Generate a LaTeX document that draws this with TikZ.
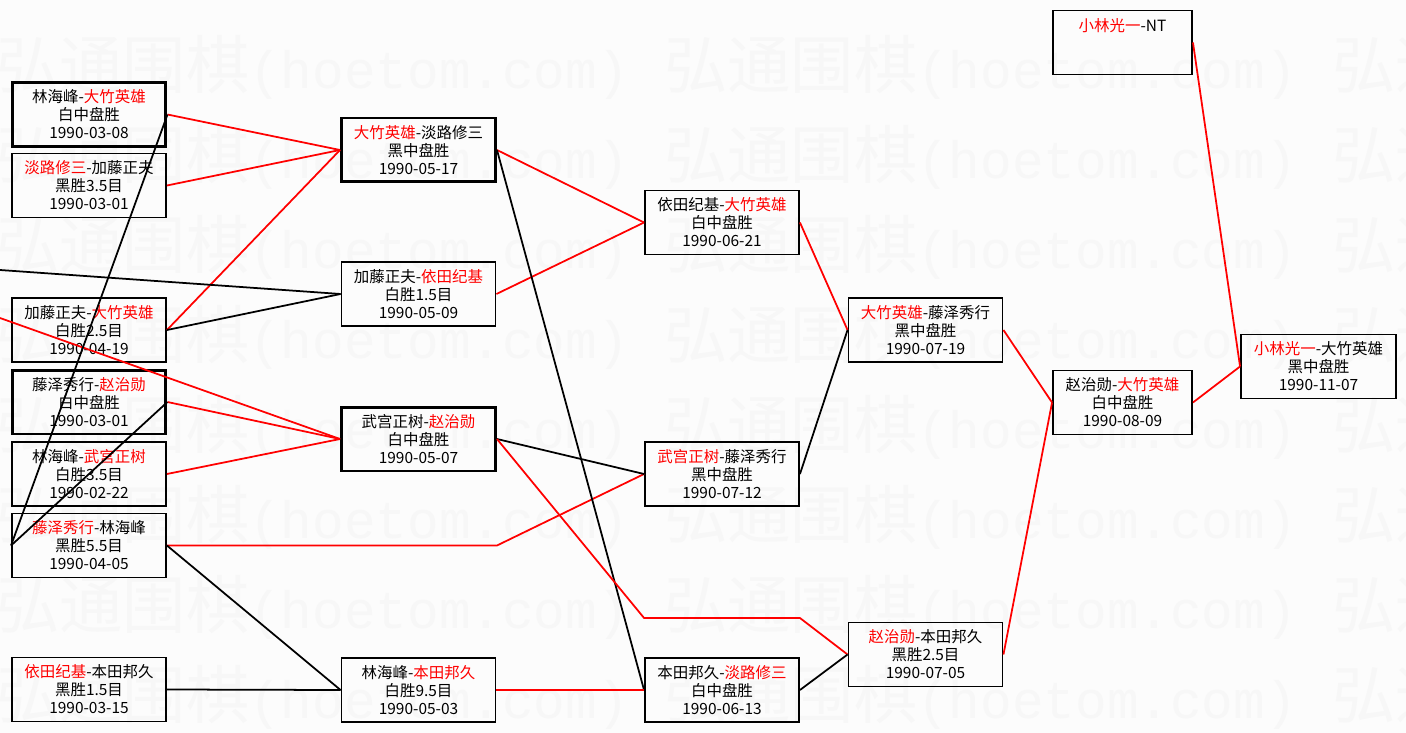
\documentclass[tikz,border=0pt]{standalone}
\usepackage{fontspec}
\setmainfont{Noto Sans CJK SC}
\newfontfamily\wmmono{Liberation Mono}
\newcommand{\wn}[1]{\textcolor{red}{#1}}
\begin{document}
\begin{tikzpicture}[x=0.02cm, y=-0.02cm,
    game/.style={rectangle, draw, line width=1.1pt, minimum width=3.08cm, minimum height=1.28cm, inner sep=0pt, align=center, font=\fontsize{8.8}{10.24}\selectfont},
    key/.style={game, line width=1.7pt},
    narrow/.style={minimum width=2.78cm},
    win/.style={red, line width=1pt},
    lose/.style={black, line width=1pt},
    wmtext/.style={anchor=west, inner sep=0pt, text=black!3, font=\fontsize{36}{36}\selectfont}
]
\useasboundingbox (0,0) rectangle (1406,733);
\clip (0,0) rectangle (1406,733);
\fill[black!1] (0,0) rectangle (1406,733);
% watermark
\foreach \y in {67,157,...,697}
  \foreach \x in {-4,664,1332}
    \node[wmtext] (wm-\x-\y) at (\x,\y) {弘通围棋{\wmmono\fontsize{30}{30}\selectfont(hoetom.com)}};
% round 1
\node[key] (a1) at (89,114.5) {林海峰-\wn{大竹英雄}\\白中盘胜\\1990-03-08};
\node[game] (a2) at (89,185.5) {\wn{淡路修三}-加藤正夫\\黑胜3.5目\\1990-03-01};
\node[game] (a3) at (89,330) {加藤正夫-\wn{大竹英雄}\\白胜2.5目\\1990-04-19};
\node[key] (a4) at (89,402) {藤泽秀行-\wn{赵治勋}\\白中盘胜\\1990-03-01};
\node[game] (a5) at (89,474) {林海峰-\wn{武宫正树}\\白胜3.5目\\1990-02-22};
\node[game] (a6) at (89,545.5) {\wn{藤泽秀行}-林海峰\\黑胜5.5目\\1990-04-05};
\node[game] (a7) at (89,689.5) {\wn{依田纪基}-本田邦久\\黑胜1.5目\\1990-03-15};
% round 2
\node[key] (b1) at (418.5,150) {\wn{大竹英雄}-淡路修三\\黑中盘胜\\1990-05-17};
\node[game] (b2) at (418.5,294) {加藤正夫-\wn{依田纪基}\\白胜1.5目\\1990-05-09};
\node[key] (b3) at (418.5,439) {武宫正树-\wn{赵治勋}\\白中盘胜\\1990-05-07};
\node[game] (b4) at (418.5,690) {林海峰-\wn{本田邦久}\\白胜9.5目\\1990-05-03};
% round 3
\node[game] (c1) at (722,222.5) {依田纪基-\wn{大竹英雄}\\白中盘胜\\1990-06-21};
\node[game] (c2) at (722,474) {\wn{武宫正树}-藤泽秀行\\黑中盘胜\\1990-07-12};
\node[game] (c3) at (722,690) {本田邦久-\wn{淡路修三}\\白中盘胜\\1990-06-13};
% round 4
\node[game] (d1) at (925.5,330) {\wn{大竹英雄}-藤泽秀行\\黑中盘胜\\1990-07-19};
\node[game] (d2) at (925.5,654.5) {\wn{赵治勋}-本田邦久\\黑胜2.5目\\1990-07-05};
% final
\node[game, narrow] (e0) at (1122.5,42.5) {\wn{小林光一}-NT\\\mbox{}\\\mbox{}};
\node[game, narrow] (e1) at (1122.5,402.5) {赵治勋-\wn{大竹英雄}\\白中盘胜\\1990-08-09};
\node[game, minimum width=3.1cm] (f1) at (1318.5,366.5) {\wn{小林光一}-大竹英雄\\黑中盘胜\\1990-11-07};
\coordinate (offk) at (0,270);
\coordinate (offr) at (0,318);
\coordinate (zbend) at (722,618);
\draw[win] (a1.east) -- (b1.west);
\draw[win] (a2.east) -- (b1.west);
\draw[win] (a3.east) -- (b1.west);
\draw[lose] (a3.east) -- (b2.west);
\draw[lose] (offk) -- (b2.west);
\draw[win] (offr) -- (b3.west);
\draw[win] (a4.east) -- (b3.west);
\draw[win] (a5.east) -- (b3.west);
\draw[lose] (a6.west) -- (a1.east);
\draw[lose] (a6.west) -- (a4.east);
\draw[win] (a6.east) -- (a6.east -| b3.east) -- (c2.west);
\draw[lose] (a6.east) -- (b4.west);
\draw[lose] (a7.east) -- (b4.west);
\draw[win] (b1.east) -- (c1.west);
\draw[win] (b2.east) -- (c1.west);
\draw[lose] (b1.east) -- (c3.west);
\draw[lose] (b3.east) -- (c2.west);
\draw[win] (b3.east) -- (c3.west |- zbend) -- (c3.east |- zbend) -- (d2.west);
\draw[win] (b4.east) -- (c3.west);
\draw[win] (c1.east) -- (d1.west);
\draw[lose] (c2.east) -- (d1.west);
\draw[lose] (c3.east) -- (d2.west);
\draw[win] (d1.east) -- (e1.west);
\draw[win] (d2.east) -- (e1.west);
\draw[win] (e1.east) -- (f1.west);
\draw[win] (e0.east) -- (f1.west);
\end{tikzpicture}
\end{document}
